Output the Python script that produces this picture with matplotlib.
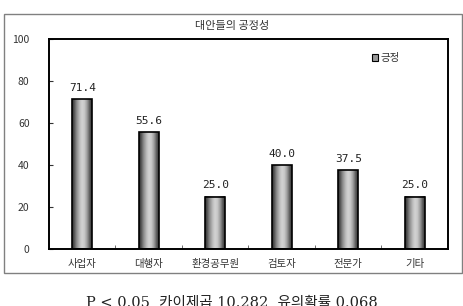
import numpy as np
import matplotlib
matplotlib.use('Agg')
import matplotlib.pyplot as plt
from matplotlib.patches import Rectangle

plt.rcParams['font.family'] = ['Noto Sans CJK KR', 'DejaVu Sans']

categories = ['사업자', '대행자', '환경공무원', '검토자', '전문가', '기타']
values = [71.4, 55.6, 25.0, 40.0, 37.5, 25.0]
yticks = [0, 20, 40, 60, 80, 100]
title = '대안들의 공정성'
legend_label = '긍정'
note = 'P < 0.05  카이제곱 10.282  유의확률 0.068'

fig = plt.figure(figsize=(4.64, 3.06), dpi=100)
fig.patch.set_facecolor('white')

# outer chart frame
fig.patches.append(Rectangle((4 / 464, 1 - 273 / 306), 458 / 464, 259 / 306,
                             transform=fig.transFigure, fill=False,
                             edgecolor='#808080', linewidth=1))

ax = fig.add_axes([49 / 464, 1 - 249 / 306, 399 / 464, 210 / 306])

# cylinder-like gray gradient
prof = np.array([0.22, 0.35, 0.5, 0.62, 0.72, 0.8, 0.82, 0.78, 0.68, 0.55, 0.38, 0.25])
grad = prof.reshape(1, -1)
bw = 0.3
x = np.arange(len(categories))
for xi, v in zip(x, values):
    ax.imshow(grad, cmap='gray', vmin=0, vmax=1, aspect='auto',
              extent=(xi - bw / 2, xi + bw / 2, 0, v), interpolation='bilinear',
              zorder=2)
    ax.add_patch(Rectangle((xi - bw / 2, 0), bw, v, fill=False,
                           edgecolor='black', linewidth=1.2, zorder=3))
    ax.text(xi, v + 3, f'{v:.1f}', ha='center', va='bottom',
            family='DejaVu Sans Mono', fontsize=8, color='#222222')

ax.set_xlim(-0.5, len(categories) - 0.5)
ax.set_ylim(0, 100)
ax.set_yticks(yticks)
ax.set_xticks(x)
ax.set_xticklabels(categories, fontsize=7.5, color='#333333')
ax.set_xticks(np.arange(0.5, len(categories) - 0.5), minor=True)
ax.tick_params(axis='x', which='major', length=0, pad=7)
ax.tick_params(axis='x', which='minor', length=3, direction='in', color='#555555')
ax.tick_params(axis='y', length=3, direction='in', labelsize=7.5, pad=14,
               colors='#333333')
for s in ax.spines.values():
    s.set_linewidth(1.4)
    s.set_color('black')

fig.text(232 / 464, 1 - 26 / 306, title, ha='center', va='center',
         fontsize=8, color='#333333')

# legend
lx, ly = 372 / 464, 1 - 58 / 306
fig.patches.append(Rectangle((lx, ly - 3 / 306), 6 / 464, 7 / 306,
                             transform=fig.transFigure, facecolor='#999999',
                             edgecolor='black', linewidth=0.8))
fig.text(lx + 9 / 464, ly, legend_label, ha='left', va='center',
         fontsize=7.5, color='#333333')

# note is partly cut off at the bottom edge, as in the original
fig.text(232 / 464, 1 - 307 / 306, note, ha='center', va='baseline',
         fontsize=10.5, family=['DejaVu Serif', 'Noto Sans CJK KR'], color='#222222')

fig.savefig('out.png', dpi=100)
